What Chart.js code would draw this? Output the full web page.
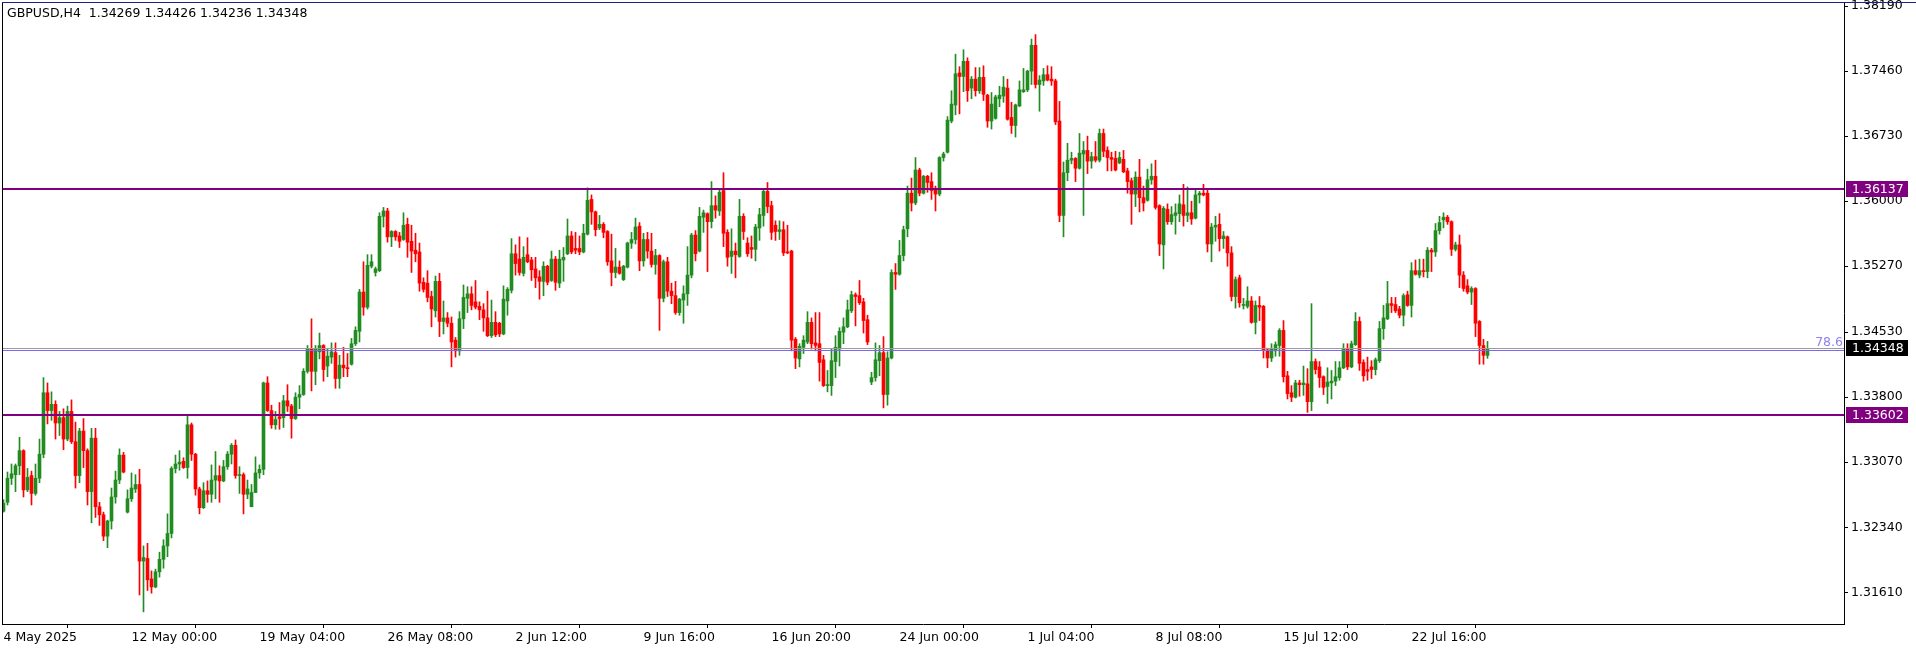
<!DOCTYPE html>
<html>
<head>
<meta charset="utf-8">
<script src="https://cdn.jsdelivr.net/npm/chart.js@4.4.1/dist/chart.umd.min.js"></script>
<style>
  html, body { margin: 0; padding: 0; background: #fff; }
  #wrap { width: 1916px; height: 652px; }
</style>
</head>
<body>
<div id="wrap"><canvas id="gbpusd" width="1916" height="652"></canvas></div>
<script>
const symbolTitle = "GBPUSD,H4  1.34269 1.34426 1.34236 1.34348";

const dateLabels = ["4 May 2025", "12 May 00:00", "19 May 04:00", "26 May 08:00", "2 Jun 12:00", "9 Jun 16:00",
    "16 Jun 20:00", "24 Jun 00:00", "1 Jul 04:00", "8 Jul 08:00", "15 Jul 12:00", "22 Jul 16:00"];
const dateLabelBars = [0, 32, 64, 96, 128, 160, 192, 224, 256, 288, 320, 352];

const priceTicks = [1.38190, 1.37460, 1.36730, 1.36000, 1.35270, 1.34530, 1.33800, 1.33070, 1.32340, 1.31610];

const levelLines = [1.36137, 1.33602];
const bidPrice = 1.34348;
const fibLevel = 1.34329;
const fibLabel = "78.6";

// H4 candles, oldest first
const opens = [
    1.3252,1.3262,1.3289,1.3293,1.3303,1.3320,1.3276,1.3292,1.3272,1.3289,
    1.3316,1.3385,1.3365,1.3372,1.3351,1.3357,1.3333,1.3364,1.3330,1.3292,
    1.3342,1.3320,1.3274,1.3334,1.3257,1.3248,1.3224,1.3241,1.3268,1.3287,
    1.3315,1.3251,1.3266,1.3277,1.3282,1.3196,1.3199,1.3176,1.3167,1.3184,
    1.3198,1.3213,1.3227,1.3300,1.3305,1.3308,1.3301,1.3349,1.3316,1.3277,
    1.3256,1.3275,1.3271,1.3287,1.3292,1.3286,1.3302,1.3316,1.3326,1.3292,
    1.3293,1.3271,1.3257,1.3273,1.3295,1.3299,1.3396,1.3365,1.3349,1.3358,
    1.3357,1.3376,1.3370,1.3356,1.3380,1.3383,1.3409,1.3434,1.3409,1.3431,
    1.3438,1.3415,1.3425,1.3430,1.3401,1.3416,1.3413,1.3417,1.3440,1.3454,
    1.3498,1.3481,1.3527,1.3520,1.3522,1.3583,1.3589,1.3560,1.3566,1.3561,
    1.3557,1.3574,1.3555,1.3545,1.3543,1.3509,1.3508,1.3493,1.3477,1.3510,
    1.3465,1.3469,1.3463,1.3444,1.3432,1.3468,1.3491,1.3496,1.3487,1.3482,
    1.3478,1.3469,1.3449,1.3464,1.3463,1.3451,1.3488,1.3500,1.3541,1.3535,
    1.3519,1.3540,1.3534,1.3524,1.3515,1.3510,1.3527,1.3511,1.3535,1.3508,
    1.3534,1.3541,1.3561,1.3547,1.3547,1.3543,1.3563,1.3602,1.3588,1.3570,
    1.3574,1.3566,1.3533,1.3520,1.3526,1.3512,1.3526,1.3553,1.3557,1.3572,
    1.3533,1.3557,1.3544,1.3529,1.3539,1.3491,1.3532,1.3499,1.3494,1.3475,
    1.3489,1.3496,1.3517,1.3562,1.3544,1.3582,1.3586,1.3577,1.3595,1.3589,
    1.3612,1.3565,1.3538,1.3544,1.3538,1.3583,1.3553,1.3548,1.3546,1.3570,
    1.3584,1.3611,1.3595,1.3573,1.3566,1.3568,1.3543,1.3544,1.3445,1.3423,
    1.3436,1.3442,1.3464,1.3441,1.3440,1.3422,1.3393,1.3393,1.3420,1.3434,
    1.3453,1.3459,1.3477,1.3495,1.3494,1.3487,1.3467,1.3397,1.3402,1.3421,
    1.3430,1.3383,1.3424,1.3520,1.3518,1.3539,1.3569,1.3609,1.3598,1.3635,
    1.3609,1.3628,1.3622,1.3613,1.3608,1.3649,1.3655,1.3690,1.3708,1.3744,
    1.3740,1.3757,1.3727,1.3737,1.3724,1.3739,1.3719,1.3690,1.3693,1.3715,
    1.3718,1.3727,1.3694,1.3685,1.3707,1.3723,1.3725,1.3746,1.3775,1.3731,
    1.3735,1.3742,1.3737,1.3735,1.3690,1.3584,1.3632,1.3646,1.3648,1.3637,
    1.3653,1.3657,1.3645,1.3650,1.3646,1.3676,1.3657,1.3649,1.3648,1.3643,
    1.3647,1.3634,1.3623,1.3608,1.3627,1.3604,1.3601,1.3624,1.3628,1.3595,
    1.3551,1.3591,1.3577,1.3584,1.3586,1.3596,1.3584,1.3587,1.3581,1.3607,
    1.3609,1.3609,1.3552,1.3571,1.3574,1.3558,1.3560,1.3542,1.3493,1.3514,
    1.3483,1.3482,1.3488,1.3464,1.3483,1.3482,1.3433,1.3424,1.3432,1.3438,
    1.3455,1.3404,1.3385,1.3380,1.3396,1.3394,1.3395,1.3375,1.3420,1.3414,
    1.3403,1.3392,1.3396,1.3398,1.3402,1.3413,1.3434,1.3414,1.3439,1.3465,
    1.3419,1.3411,1.3414,1.3411,1.3421,1.3457,1.3468,1.3485,1.3484,1.3479,
    1.3472,1.3495,1.3483,1.3522,1.3517,1.3522,1.3521,1.3545,1.3543,1.3567,
    1.3579,1.3582,1.3577,1.3546,1.3551,1.3517,1.3505,1.3498,1.3502,1.3465,
    1.3438,1.34269
];
const highs = [
    1.3265,1.3296,1.3305,1.3305,1.3335,1.3321,1.3300,1.3297,1.3305,1.3333,
    1.3402,1.3396,1.3386,1.3376,1.3364,1.3367,1.3370,1.3377,1.3352,1.3345,
    1.3356,1.3322,1.3345,1.3345,1.3262,1.3251,1.3242,1.3278,1.3297,1.3322,
    1.3318,1.3276,1.3295,1.3293,1.3299,1.3213,1.3216,1.3185,1.3187,1.3206,
    1.3220,1.3249,1.3302,1.3315,1.3320,1.3312,1.3360,1.3351,1.3317,1.3279,
    1.3284,1.3286,1.3304,1.3319,1.3303,1.3309,1.3319,1.3328,1.3332,1.3302,
    1.3295,1.3287,1.3282,1.3313,1.3304,1.3397,1.3403,1.3371,1.3364,1.3374,
    1.3382,1.3394,1.3372,1.3385,1.3393,1.3412,1.3438,1.3468,1.3438,1.3452,
    1.3439,1.3434,1.3441,1.3441,1.3427,1.3436,1.3429,1.3446,1.3459,1.3501,
    1.3532,1.3540,1.3540,1.3526,1.3587,1.3593,1.3592,1.3567,1.3567,1.3565,
    1.3587,1.3581,1.3573,1.3564,1.3553,1.3514,1.3522,1.3499,1.3516,1.3519,
    1.3488,1.3475,1.3470,1.3447,1.3476,1.3506,1.3504,1.3504,1.3511,1.3487,
    1.3485,1.3499,1.3489,1.3476,1.3464,1.3505,1.3503,1.3558,1.3551,1.3560,
    1.3549,1.3559,1.3537,1.3537,1.3522,1.3532,1.3528,1.3544,1.3538,1.3545,
    1.3548,1.3580,1.3566,1.3565,1.3561,1.3574,1.3615,1.3607,1.3589,1.3584,
    1.3576,1.3567,1.3563,1.3547,1.3533,1.3528,1.3554,1.3565,1.3581,1.3576,
    1.3564,1.3565,1.3564,1.3546,1.3540,1.3534,1.3537,1.3508,1.3510,1.3491,
    1.3505,1.3549,1.3564,1.3567,1.3593,1.3590,1.3587,1.3622,1.3606,1.3614,
    1.3632,1.3568,1.3569,1.3553,1.3602,1.3586,1.3559,1.3561,1.3574,1.3592,
    1.3614,1.3621,1.3600,1.3578,1.3578,1.3577,1.3573,1.3545,1.3447,1.3440,
    1.3449,1.3476,1.3469,1.3475,1.3475,1.3427,1.3410,1.3434,1.3449,1.3458,
    1.3469,1.3489,1.3499,1.3497,1.3511,1.3491,1.3472,1.3408,1.3441,1.3438,
    1.3448,1.3431,1.3523,1.3530,1.3556,1.3572,1.3617,1.3626,1.3649,1.3637,
    1.3629,1.3629,1.3632,1.3617,1.3650,1.3655,1.3695,1.3724,1.3765,1.3751,
    1.3770,1.3761,1.3740,1.3750,1.3750,1.3752,1.3720,1.3722,1.3719,1.3729,
    1.3740,1.3737,1.3711,1.3709,1.3735,1.3749,1.3747,1.3782,1.3787,1.3741,
    1.3749,1.3752,1.3751,1.3737,1.3712,1.3644,1.3665,1.3655,1.3649,1.3676,
    1.3667,1.3673,1.3655,1.3667,1.3681,1.3681,1.3661,1.3655,1.3656,1.3655,
    1.3657,1.3637,1.3626,1.3633,1.3647,1.3617,1.3636,1.3642,1.3646,1.3596,
    1.3594,1.3597,1.3594,1.3597,1.3607,1.3619,1.3616,1.3600,1.3613,1.3611,
    1.3619,1.3614,1.3575,1.3583,1.3586,1.3566,1.3561,1.3549,1.3515,1.3517,
    1.3491,1.3504,1.3493,1.3488,1.3493,1.3483,1.3435,1.3440,1.3442,1.3457,
    1.3466,1.3409,1.3393,1.3399,1.3399,1.3415,1.3412,1.3485,1.3423,1.3420,
    1.3404,1.3413,1.3410,1.3420,1.3420,1.3440,1.3440,1.3443,1.3475,1.3470,
    1.3422,1.3425,1.3421,1.3424,1.3465,1.3483,1.3510,1.3492,1.3492,1.3482,
    1.3496,1.3499,1.3531,1.3534,1.3535,1.3535,1.3548,1.3547,1.3575,1.3583,
    1.3587,1.3584,1.3578,1.3554,1.3562,1.3521,1.3512,1.3504,1.3503,1.3466,
    1.3445,1.34426
];
const lows = [
    1.3251,1.3259,1.3282,1.3274,1.3293,1.3268,1.3274,1.3259,1.3270,1.3284,
    1.3312,1.3350,1.3354,1.3333,1.3337,1.3321,1.3331,1.3328,1.3278,1.3284,
    1.3301,1.3259,1.3239,1.3245,1.3236,1.3219,1.3211,1.3232,1.3261,1.3283,
    1.3295,1.3250,1.3263,1.3273,1.3158,1.3139,1.3163,1.3160,1.3166,1.3178,
    1.3188,1.3201,1.3222,1.3295,1.3298,1.3300,1.3289,1.3309,1.3270,1.3249,
    1.3255,1.3262,1.3262,1.3266,1.3262,1.3285,1.3299,1.3305,1.3289,1.3272,
    1.3249,1.3266,1.3257,1.3273,1.3289,1.3293,1.3364,1.3345,1.3344,1.3344,
    1.3346,1.3364,1.3334,1.3355,1.3367,1.3382,1.3407,1.3387,1.3394,1.3423,
    1.3398,1.3403,1.3418,1.3390,1.3390,1.3403,1.3403,1.3416,1.3438,1.3442,
    1.3472,1.3479,1.3525,1.3516,1.3521,1.3571,1.3554,1.3549,1.3556,1.3548,
    1.3556,1.3537,1.3520,1.3532,1.3499,1.3498,1.3487,1.3459,1.3470,1.3448,
    1.3451,1.3459,1.3414,1.3425,1.3427,1.3457,1.3475,1.3478,1.3479,1.3467,
    1.3454,1.3448,1.3447,1.3448,1.3448,1.3450,1.3472,1.3497,1.3517,1.3517,
    1.3516,1.3531,1.3511,1.3503,1.3490,1.3494,1.3506,1.3510,1.3500,1.3503,
    1.3510,1.3540,1.3541,1.3541,1.3540,1.3542,1.3562,1.3574,1.3561,1.3568,
    1.3559,1.3528,1.3505,1.3514,1.3518,1.3511,1.3525,1.3547,1.3552,1.3522,
    1.3527,1.3536,1.3526,1.3518,1.3455,1.3487,1.3493,1.3485,1.3473,1.3472,
    1.3463,1.3483,1.3514,1.3533,1.3543,1.3565,1.3521,1.3570,1.3581,1.3584,
    1.3549,1.3527,1.3519,1.3514,1.3537,1.3557,1.3538,1.3536,1.3533,1.3556,
    1.3572,1.3587,1.3557,1.3556,1.3557,1.3539,1.3541,1.3432,1.3412,1.3414,
    1.3429,1.3440,1.3434,1.3432,1.3398,1.3392,1.3386,1.3382,1.3402,1.3415,
    1.3440,1.3458,1.3475,1.3460,1.3484,1.3452,1.3439,1.3394,1.3398,1.3404,
    1.3368,1.3371,1.3423,1.3501,1.3517,1.3533,1.3560,1.3589,1.3596,1.3606,
    1.3608,1.3610,1.3602,1.3589,1.3606,1.3645,1.3654,1.3688,1.3697,1.3698,
    1.3723,1.3712,1.3715,1.3718,1.3721,1.3713,1.3683,1.3681,1.3692,1.3706,
    1.3711,1.3691,1.3676,1.3672,1.3706,1.3722,1.3723,1.3731,1.3727,1.3701,
    1.3730,1.3735,1.3730,1.3686,1.3577,1.3560,1.3623,1.3642,1.3622,1.3636,
    1.3584,1.3631,1.3637,1.3644,1.3644,1.3650,1.3634,1.3634,1.3634,1.3642,
    1.3632,1.3609,1.3574,1.3594,1.3588,1.3589,1.3600,1.3619,1.3591,1.3539,
    1.3524,1.3574,1.3574,1.3563,1.3577,1.3572,1.3577,1.3574,1.3580,1.3598,
    1.3606,1.3543,1.3532,1.3555,1.3544,1.3547,1.3527,1.3488,1.3480,1.3481,
    1.3479,1.3480,1.3463,1.3451,1.3466,1.3424,1.3413,1.3420,1.3426,1.3426,
    1.3397,1.3378,1.3375,1.3379,1.3381,1.3382,1.3363,1.3365,1.3406,1.3391,
    1.3383,1.3373,1.3378,1.3393,1.3399,1.3412,1.3411,1.3413,1.3438,1.3410,
    1.3398,1.3399,1.3401,1.3405,1.3419,1.3445,1.3467,1.3475,1.3475,1.3469,
    1.3460,1.3482,1.3470,1.3517,1.3514,1.3515,1.3514,1.3521,1.3538,1.3563,
    1.3570,1.3574,1.3539,1.3544,1.3503,1.3499,1.3496,1.3484,1.3448,1.3417,
    1.3417,1.34236
];
const closes = [
    1.3261,1.3289,1.3294,1.3303,1.3320,1.3276,1.3290,1.3272,1.3289,1.3316,
    1.3385,1.3365,1.3372,1.3351,1.3357,1.3333,1.3364,1.3330,1.3292,1.3342,
    1.3320,1.3274,1.3334,1.3257,1.3248,1.3224,1.3241,1.3268,1.3287,1.3315,
    1.3296,1.3266,1.3278,1.3282,1.3196,1.3200,1.3175,1.3167,1.3184,1.3198,
    1.3213,1.3227,1.3300,1.3305,1.3307,1.3301,1.3349,1.3316,1.3277,1.3256,
    1.3275,1.3271,1.3287,1.3292,1.3286,1.3302,1.3316,1.3326,1.3292,1.3293,
    1.3271,1.3277,1.3273,1.3295,1.3299,1.3396,1.3365,1.3349,1.3355,1.3356,
    1.3376,1.3370,1.3356,1.3380,1.3383,1.3409,1.3434,1.3409,1.3434,1.3438,
    1.3411,1.3426,1.3431,1.3401,1.3416,1.3413,1.3412,1.3440,1.3455,1.3498,
    1.3481,1.3528,1.3532,1.3524,1.3583,1.3589,1.3560,1.3566,1.3560,1.3555,
    1.3573,1.3554,1.3544,1.3541,1.3508,1.3501,1.3492,1.3479,1.3510,1.3465,
    1.3469,1.3463,1.3442,1.3432,1.3468,1.3492,1.3496,1.3483,1.3481,1.3478,
    1.3469,1.3449,1.3464,1.3450,1.3451,1.3490,1.3501,1.3541,1.3530,1.3520,
    1.3537,1.3532,1.3523,1.3514,1.3510,1.3527,1.3509,1.3535,1.3509,1.3535,
    1.3537,1.3561,1.3543,1.3545,1.3543,1.3564,1.3601,1.3588,1.3568,1.3574,
    1.3565,1.3532,1.3520,1.3526,1.3519,1.3527,1.3553,1.3557,1.3571,1.3533,
    1.3557,1.3544,1.3529,1.3539,1.3491,1.3532,1.3499,1.3494,1.3475,1.3490,
    1.3496,1.3517,1.3562,1.3541,1.3583,1.3587,1.3577,1.3595,1.3590,1.3610,
    1.3564,1.3537,1.3544,1.3540,1.3583,1.3566,1.3541,1.3546,1.3571,1.3585,
    1.3611,1.3594,1.3565,1.3566,1.3568,1.3542,1.3542,1.3444,1.3424,1.3437,
    1.3444,1.3464,1.3440,1.3438,1.3419,1.3393,1.3394,1.3421,1.3436,1.3454,
    1.3459,1.3478,1.3495,1.3493,1.3486,1.3466,1.3442,1.3402,1.3422,1.3430,
    1.3383,1.3424,1.3520,1.3518,1.3539,1.3568,1.3609,1.3598,1.3635,1.3609,
    1.3628,1.3621,1.3612,1.3608,1.3649,1.3653,1.3691,1.3709,1.3743,1.3740,
    1.3757,1.3724,1.3737,1.3724,1.3739,1.3720,1.3690,1.3709,1.3717,1.3719,
    1.3728,1.3692,1.3685,1.3708,1.3725,1.3725,1.3746,1.3775,1.3731,1.3736,
    1.3742,1.3736,1.3735,1.3689,1.3584,1.3632,1.3646,1.3648,1.3637,1.3654,
    1.3657,1.3645,1.3650,1.3646,1.3676,1.3656,1.3649,1.3647,1.3635,1.3649,
    1.3633,1.3622,1.3608,1.3627,1.3604,1.3598,1.3624,1.3628,1.3593,1.3552,
    1.3592,1.3577,1.3585,1.3587,1.3597,1.3584,1.3587,1.3580,1.3607,1.3609,
    1.3607,1.3552,1.3571,1.3573,1.3558,1.3561,1.3542,1.3493,1.3512,1.3486,
    1.3484,1.3488,1.3464,1.3483,1.3481,1.3433,1.3424,1.3434,1.3439,1.3455,
    1.3403,1.3384,1.3380,1.3396,1.3394,1.3396,1.3375,1.3420,1.3411,1.3402,
    1.3391,1.3397,1.3398,1.3403,1.3413,1.3434,1.3414,1.3440,1.3465,1.3418,
    1.3404,1.3409,1.3411,1.3422,1.3457,1.3469,1.3485,1.3483,1.3477,1.3472,
    1.3494,1.3483,1.3522,1.3518,1.3522,1.3521,1.3545,1.3543,1.3567,1.3576,
    1.3582,1.3577,1.3546,1.3551,1.3517,1.3502,1.3498,1.3502,1.3463,1.3438,
    1.3427,1.34348
];

const UP = "#228b22";
const DOWN = "#ff0000";
const candleColors = closes.map((c, i) => c >= opens[i] ? UP : DOWN);

const FONT = "DejaVu Sans";
const FONT_SIZE = 12.5;
Chart.defaults.font.family = FONT;
Chart.defaults.font.size = FONT_SIZE;
Chart.defaults.color = "#000";

const overlay = {
    id: "overlay",
    afterDatasetsDraw(chart) {
        const { ctx, chartArea: a, scales: { y } } = chart;
        ctx.save();
        // support / resistance levels
        ctx.fillStyle = "#800080";
        levelLines.forEach(function (v) {
            const py = Math.round(y.getPixelForValue(v));
            ctx.fillRect(a.left, py - 1, a.right - a.left, 2);
        });
        // bid line
        ctx.fillStyle = "#9a9aa6";
        ctx.fillRect(a.left, Math.round(y.getPixelForValue(bidPrice)), a.right - a.left, 1);
        // fibo 78.6
        const fy = Math.round(y.getPixelForValue(fibLevel));
        ctx.fillStyle = "#7b68ee";
        ctx.fillRect(a.left, fy, a.right - a.left, 1);
        ctx.font = FONT_SIZE + "px " + FONT;
        ctx.textAlign = "right";
        ctx.textBaseline = "bottom";
        ctx.fillStyle = "#8f80f0";
        ctx.fillText(fibLabel, a.right - 1, fy - 1);
        ctx.restore();
    },
    afterDraw(chart) {
        const { ctx, chartArea: a, scales: { y } } = chart;
        ctx.save();
        // frame
        ctx.fillStyle = "#000";
        ctx.fillRect(a.left, a.top, 1, a.bottom - a.top);
        ctx.fillStyle = "#202080";
        ctx.fillRect(a.left, a.top, chart.width - a.left, 1);

        ctx.font = FONT_SIZE + "px " + FONT;
        ctx.textAlign = "left";
        ctx.textBaseline = "middle";

        function tag(value, bg) {
            const py = Math.round(y.getPixelForValue(value));
            ctx.fillStyle = bg;
            ctx.fillRect(a.right + 2, py - 8, 62, 16);
            ctx.fillStyle = "#fff";
            ctx.fillText(value.toFixed(5), a.right + 8, py + 0.5);
        }
        levelLines.forEach(function (v) { tag(v, "#800080"); });
        tag(bidPrice, "#000");

        ctx.fillStyle = "#000";
        ctx.fillText(symbolTitle, 7, 14);
        ctx.restore();
    }
};

const idx = closes.map((c, i) => i);

new Chart(document.getElementById("gbpusd").getContext("2d"), {
    type: "bar",
    data: {
        datasets: [
            {
                label: "wick",
                data: idx.map(i => ({ x: i, y: [lows[i], highs[i]] })),
                backgroundColor: candleColors,
                barThickness: 1,
                grouped: false,
                borderWidth: 0
            },
            {
                label: "body",
                data: idx.map(i => ({ x: i, y: [opens[i], closes[i]] })),
                backgroundColor: candleColors,
                barThickness: 3,
                minBarLength: 1,
                grouped: false,
                borderWidth: 0
            }
        ]
    },
    options: {
        responsive: false,
        animation: false,
        devicePixelRatio: 1,
        layout: { padding: { left: 2, top: 2, right: 0, bottom: 0 } },
        plugins: { legend: { display: false }, tooltip: { enabled: false } },
        scales: {
            x: {
                type: "linear",
                min: -0.375,
                max: 460.125,
                offset: false,
                grid: { drawOnChartArea: false, drawTicks: true, tickLength: 4, color: "#000" },
                border: { display: true, color: "#000", width: 1 },
                ticks: {
                    autoSkip: false,
                    maxRotation: 0,
                    align: "start",
                    padding: 2,
                    callback: function (v) {
                        const k = dateLabelBars.indexOf(v);
                        return k >= 0 ? dateLabels[k] : "";
                    }
                },
                afterBuildTicks: function (axis) {
                    axis.ticks = dateLabelBars.map(v => ({ value: v }));
                },
                afterFit: function (axis) {
                    axis.height = 28;
                    axis.paddingLeft = 0;
                    axis.paddingRight = 0;
                }
            },
            y: {
                type: "linear",
                position: "right",
                min: 1.31254,
                max: 1.38236,
                grid: { drawOnChartArea: false, drawTicks: true, tickLength: 4, color: "#000" },
                border: { display: true, color: "#000", width: 1 },
                ticks: {
                    padding: 3,
                    callback: v => v.toFixed(5)
                },
                afterBuildTicks: function (axis) {
                    axis.ticks = priceTicks.map(v => ({ value: v }));
                },
                afterFit: function (axis) {
                    axis.width = 72;
                    axis.paddingTop = 0;
                    axis.paddingBottom = 0;
                }
            }
        }
    },
    plugins: [overlay]
});
</script>
</body>
</html>
